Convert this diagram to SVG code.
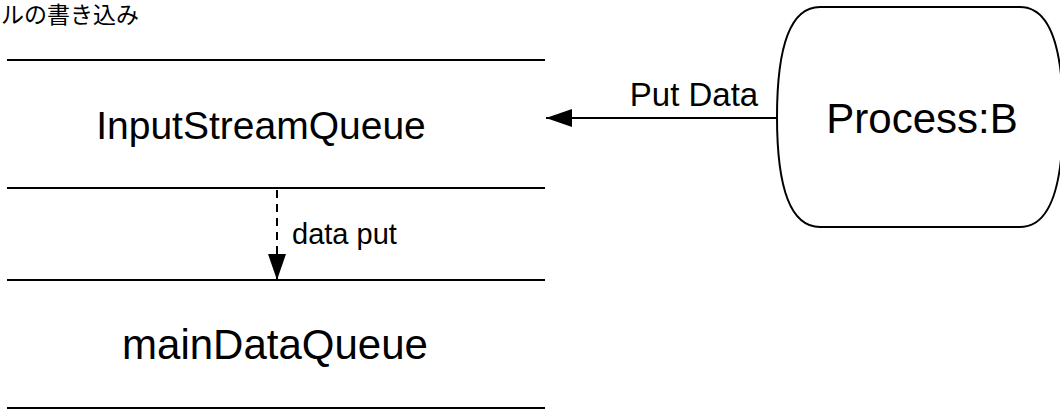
<svg xmlns="http://www.w3.org/2000/svg" width="1060" height="410" viewBox="0 0 1060 410">
<style>
.t{font-family:"Liberation Sans",Arial,sans-serif;fill:#000}
.line{stroke:#000;stroke-width:2;fill:none}
.shape{stroke:#000;stroke-width:2;fill:#fff}
</style>
<defs>
<marker id="ahL" viewBox="0 0 26 18" refX="26" refY="9" markerWidth="26" markerHeight="18" markerUnits="userSpaceOnUse" orient="auto">
<path d="M0,0 L26,9 L0,18 L0,9 z" fill="#000"/>
</marker>
</defs>
<rect width="1060" height="410" fill="#fff"/>
<text class="t" x="1" y="23" style="font-family:'Noto Sans CJK JP','Liberation Sans',sans-serif;font-size:23px">ルの書き込み</text>
<g id="inputStreamQueue">
<line class="line" x1="7" y1="60" x2="545" y2="60"/>
<line class="line" x1="7" y1="188" x2="545" y2="188"/>
<text class="t" x="261" y="139" text-anchor="middle" font-size="39">InputStreamQueue</text>
</g>
<g id="mainDataQueue">
<line class="line" x1="7" y1="280" x2="545" y2="280"/>
<line class="line" x1="7" y1="408" x2="545" y2="408"/>
<text class="t" x="275" y="359" text-anchor="middle" font-size="42">mainDataQueue</text>
</g>
<g id="processB">
<path class="shape" d="M820,7 L1020,7 Q1063,7 1063,117 Q1063,227 1020,227 L820,227 Q777,227 777,117 Q777,7 820,7 Z"/>
<text class="t" x="922" y="133" text-anchor="middle" font-size="42">Process:B</text>
</g>
<g id="connectors">
<line class="line" x1="778" y1="118" x2="546" y2="118" marker-end="url(#ahL)"/>
<text class="t" x="694" y="106" text-anchor="middle" font-size="33">Put Data</text>
<line class="line" x1="277" y1="190" x2="277" y2="280" stroke-dasharray="8 6" marker-end="url(#ahL)"/>
<text class="t" x="292" y="244" font-size="29">data put</text>
</g>
</svg>
